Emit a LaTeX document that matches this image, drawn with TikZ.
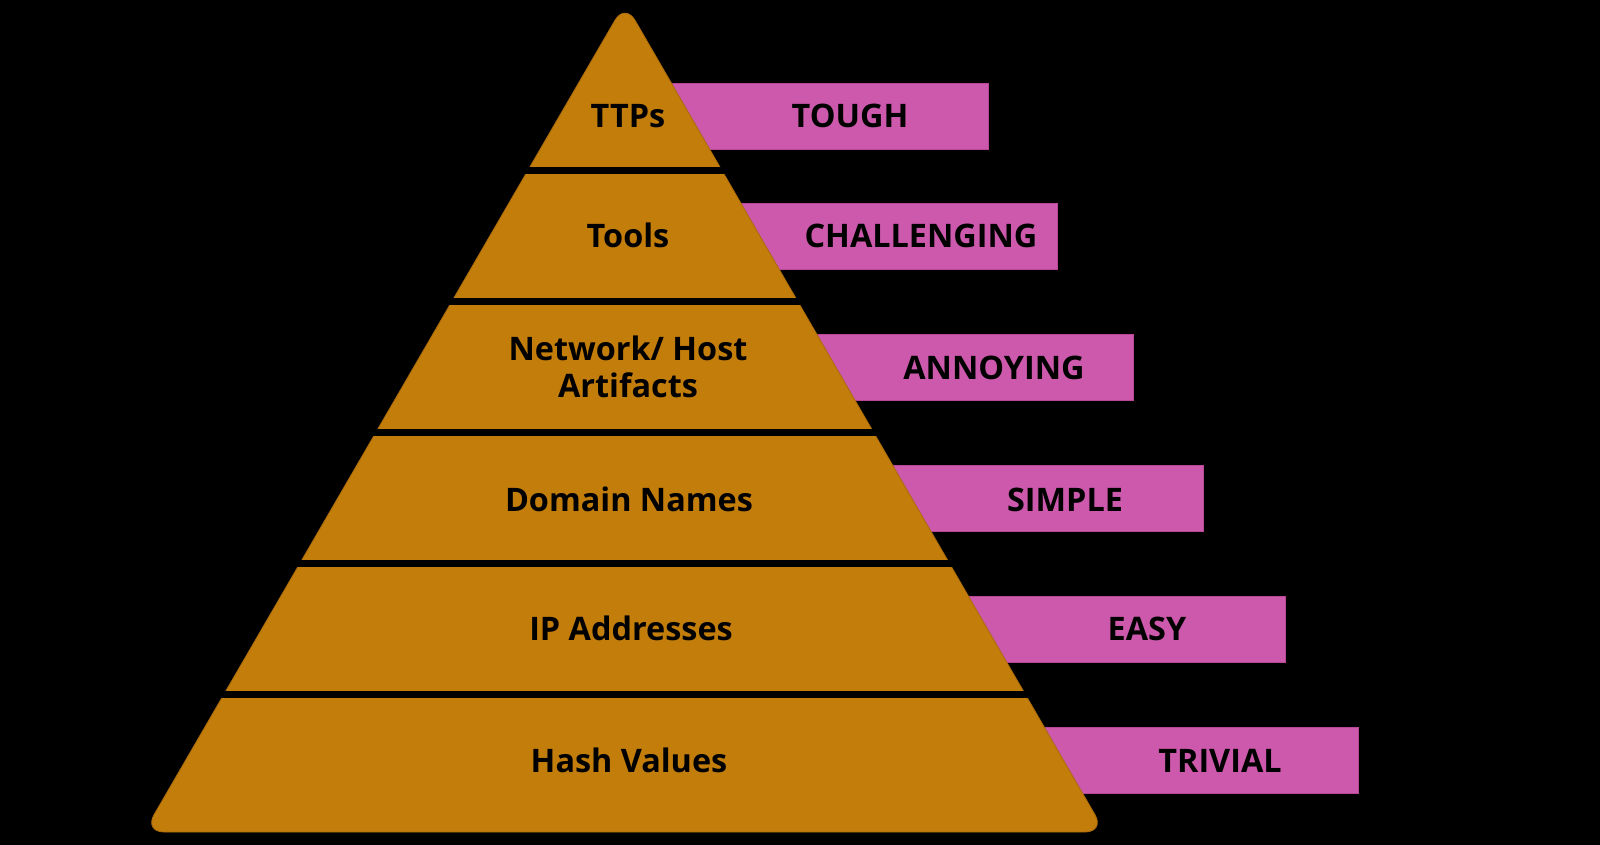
\documentclass[tikz,border=0pt]{standalone}
\usepackage{fontspec}
\setmainfont{Open Sans}
\usetikzlibrary{fit}
\definecolor{pyrgold}{RGB}{195,125,11}
\definecolor{pyredge}{RGB}{170,108,10}
\definecolor{labpink}{RGB}{204,89,172}
\definecolor{pinkedge}{RGB}{185,70,150}
\tikzset{
  pinkbox/.style={fill=labpink, draw=pinkedge, line width=0.4pt, inner sep=0pt},
  lbl/.style={font=\fontsize{16.2}{18.5}\selectfont\bfseries, text=black, inner sep=0pt, align=center},
  gapband/.style={fill=black, draw=none},
}
\begin{document}
\begin{tikzpicture}[x=0.5pt,y=-0.5pt]
\useasboundingbox (0,0) rectangle (1600,845);
\fill[black] (0,0) rectangle (1600,845);

% pink difficulty bars (behind pyramid)
\node[pinkbox, fit={(640,83) (988,149)}] (r1) {};
\node[pinkbox, fit={(660,203) (1057,269)}] (r2) {};
\node[pinkbox, fit={(700,334) (1133,400)}] (r3) {};
\node[pinkbox, fit={(760,465) (1203,531)}] (r4) {};
\node[pinkbox, fit={(840,596) (1285,662)}] (r5) {};
\node[pinkbox, fit={(900,727) (1358,793)}] (r6) {};

% pyramid
\coordinate (apex) at (625,3);
\coordinate (bl) at (144,832);
\coordinate (br) at (1105,832);
\filldraw[fill=pyrgold, draw=pyredge, line width=0.4pt, rounded corners=10pt] (apex) -- (br) -- (bl) -- cycle;

% black separating gaps
\fill[gapband] (100,167) rectangle (1150,174);
\fill[gapband] (100,298) rectangle (1150,305);
\fill[gapband] (100,429) rectangle (1150,436);
\fill[gapband] (100,560) rectangle (1150,567);
\fill[gapband] (100,691) rectangle (1150,698);

% pyramid labels
\node[lbl, anchor=base] (p1) at (628,128) {TTPs};
\node[lbl, anchor=base] (p2) at (628,248) {Tools};
\node[lbl, anchor=center] (p3) at (628,367) {Network/ Host\\Artifacts};
\node[lbl, anchor=base] (p4) at (629,511) {Domain Names};
\node[lbl, anchor=base] (p5) at (631,640) {IP Addresses};
\node[lbl, anchor=base] (p6) at (629,772) {Hash Values};

% difficulty labels
\node[lbl, anchor=base] (t1) at (850,128) {TOUGH};
\node[lbl, anchor=base] (t2) at (921,248) {CHALLENGING};
\node[lbl, anchor=base] (t3) at (994,379) {ANNOYING};
\node[lbl, anchor=base] (t4) at (1065,511) {SIMPLE};
\node[lbl, anchor=base] (t5) at (1147,640) {EASY};
\node[lbl, anchor=base] (t6) at (1220,772) {TRIVIAL};
\end{tikzpicture}
\end{document}
